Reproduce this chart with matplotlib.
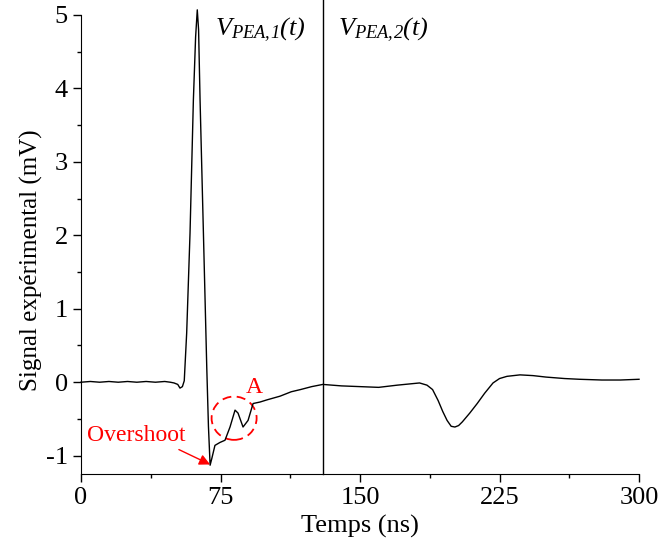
import matplotlib
matplotlib.use("Agg")
import matplotlib.pyplot as plt
from matplotlib.patches import Ellipse

plt.rcParams['font.family'] = ['Liberation Serif', 'DejaVu Serif']
# seul le texte V_PEA passe par mathtext : tout en italique
plt.rcParams['mathtext.fontset'] = 'custom'
plt.rcParams['mathtext.rm'] = 'Liberation Serif:italic'
plt.rcParams['mathtext.it'] = 'Liberation Serif:italic'
plt.rcParams['axes.unicode_minus'] = False

# signal (ns, mV)
temps = [0, 5, 10, 15, 20, 25, 30, 35, 40, 45, 48, 50, 52, 53.2, 54.5, 55.5,
         56.8, 58.6, 60.4, 61.6, 62.5, 63.2, 64, 65.8, 67.6, 68.5, 69.4,
         70.3, 72, 74.7, 77.4, 80.1, 82.8, 84.4, 87.1, 89.8, 92.5, 96.2,
         100, 107, 113, 118, 124, 130, 135, 140, 150, 160, 170, 178, 182,
         186, 189, 192, 194.5, 196.8, 199, 201, 203, 205, 209, 213, 217,
         221.5, 225, 229, 236, 243, 250, 260, 268, 280, 290, 300]
signal = [0.0, 0.01, 0.0, 0.01, 0.0, 0.01, 0.0, 0.01, 0.0, 0.01, 0.0, -0.01, -0.03, -0.08, -0.06, 0.02,
          0.67, 2.03, 3.84, 4.7, 5.07, 4.8, 3.84, 2.03, 0.2, -0.6, -1.13,
          -1.04, -0.86, -0.82, -0.79, -0.61, -0.38, -0.42, -0.61, -0.52, -0.29, -0.27,
          -0.24, -0.19, -0.13, -0.1, -0.06, -0.03, -0.04, -0.05, -0.06, -0.07, -0.04, -0.02, -0.01,
          -0.04, -0.1, -0.25, -0.4, -0.52, -0.6, -0.61, -0.59, -0.54, -0.42, -0.29, -0.15,
          -0.01, 0.05, 0.08, 0.1, 0.09, 0.07, 0.05, 0.04, 0.03, 0.03, 0.04]

x_ticks = [0, 75, 150, 225, 300]
y_ticks = [-1, 0, 1, 2, 3, 4, 5]
t_separation = 130

fig = plt.figure(figsize=(6.62, 5.51), dpi=100)
ax = fig.add_axes([0.1224, 0.1397, 0.8429, 0.8331])

ax.plot(temps, signal, color='black', lw=1.0, clip_on=False)
ax.axvline(t_separation, ymin=0, ymax=1.035, color='black', lw=1.0, clip_on=False)

ax.set_xlim(0, 300)
ax.set_ylim(-1.25, 5)
ax.set_xticks(x_ticks)
ax.set_yticks(y_ticks)
ax.set_xticks([37.5, 112.5, 187.5, 262.5], minor=True)
ax.set_yticks([-0.5, 0.5, 1.5, 2.5, 3.5, 4.5], minor=True)
ax.tick_params(which='major', direction='out', length=6, width=1, labelsize=19)
ax.tick_params(which='minor', direction='out', length=3, width=1)
ax.spines['top'].set_visible(False)
ax.spines['right'].set_visible(False)

ax.set_xlabel('Temps (ns)', fontsize=19, labelpad=4)
ax.set_ylabel('Signal expérimental (mV)', fontsize=18)
ax.yaxis.set_label_coords(-0.068, 0.466)

ax.text(72, 4.8, r'$V_{PEA,\!1}(t)$', fontsize=19, ha='left', va='center')
ax.text(138, 4.8, r'$V_{PEA,\!2}(t)$', fontsize=19, ha='left', va='center')

# annotations en rouge
ax.annotate('Overshoot', xy=(69.4, -1.12), xytext=(29.6, -0.72),
            ha='center', va='center', color='red', fontsize=17,
            arrowprops=dict(arrowstyle='-|>', color='red', lw=1,
                            mutation_scale=16, relpos=(0.85, 0.0),
                            shrinkA=2, shrinkB=0))
ax.add_patch(Ellipse((82.3, -0.49), 24.2, 0.59, fill=False, ec='red',
                     ls=(0, (5, 3)), lw=1.3))
ax.text(93.3, -0.07, 'A', color='red', fontsize=17, ha='center', va='center')

fig.savefig('out.png', dpi=100)
